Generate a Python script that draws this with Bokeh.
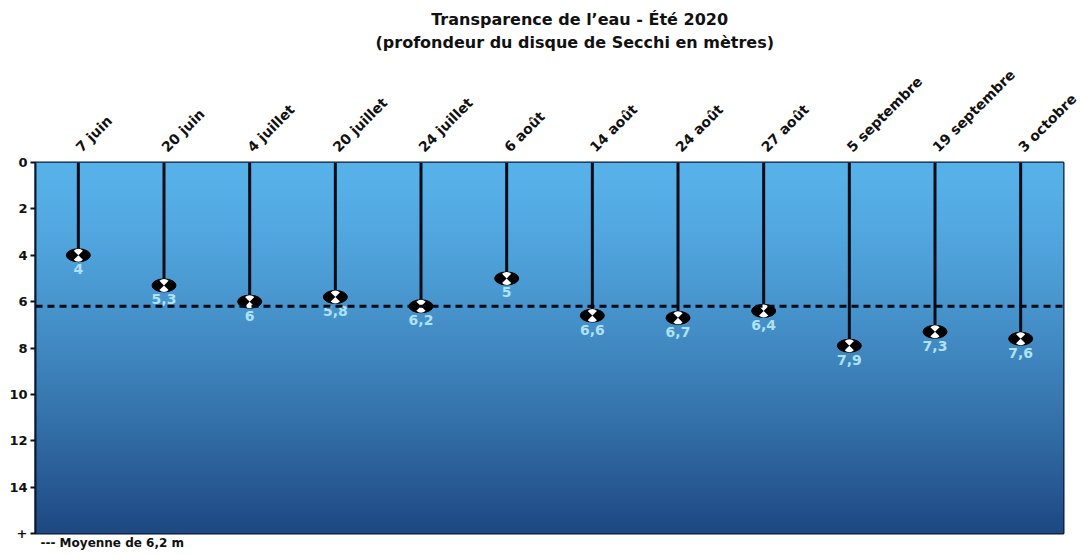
import numpy as np
from bokeh.plotting import figure
from bokeh.models import Range1d, FixedTicker, Span, ColumnDataSource, Title
from bokeh.embed import file_html
from bokeh.resources import INLINE
from bokeh.core.properties import value

dates = ["7 juin", "20 juin", "4 juillet", "20 juillet", "24 juillet", "6 août",
         "14 août", "24 août", "27 août", "5 septembre", "19 septembre", "3 octobre"]
depths = [4, 5.3, 6, 5.8, 6.2, 5, 6.6, 6.7, 6.4, 7.9, 7.3, 7.6]
mean_depth = 6.2
y_ticks = [0, 2, 4, 6, 8, 10, 12, 14, 16]
y_label_overrides = {16: "+"}
y_max = 16
title_lines = ["Transparence de l\u2019eau - Été 2020",
               "(profondeur du disque de Secchi en mètres)"]
legend_text = "--- Moyenne de 6,2 m"

xs = [i + 0.5 for i in range(len(dates))]
labels = [("%g" % d).replace(".", ",") for d in depths]

src = ColumnDataSource(dict(x=xs, y=depths, y0=[0] * len(depths), lab=labels))

FONT = "DejaVu Sans"

p = figure(width=1080, height=550, output_backend="svg", toolbar_location=None,
           x_range=Range1d(0, len(dates)), y_range=Range1d(y_max, 0),
           x_axis_location="above",
           min_border_left=35, min_border_top=162, min_border_right=17, min_border_bottom=17)

# gradient background
n = 400
t = np.linspace(0, 1, n) ** 1.35
top = np.array([88, 178, 234])
bot = np.array([30, 72, 130])
cols = (top[None, :] * (1 - t[:, None]) + bot[None, :] * t[:, None]).astype(np.uint8)
img = np.zeros((n, 1), dtype=np.uint32)
view = img.view(dtype=np.uint8).reshape((n, 1, 4))
view[:, 0, 0] = cols[:, 0]
view[:, 0, 1] = cols[:, 1]
view[:, 0, 2] = cols[:, 2]
view[:, 0, 3] = 255
p.image_rgba(image=[img], x=0, y=0, dw=len(dates), dh=y_max)

p.add_layout(Span(location=mean_depth, dimension="width", line_color="#050a14",
                  line_width=3, line_dash="7 5"))

p.segment(x0="x", y0="y0", x1="x", y1="y", source=src, line_color="#070b16", line_width=3)
p.ellipse(x="x", y="y", width=24, height=13, width_units="screen", height_units="screen",
          source=src, fill_color="black", line_color="black")
p.wedge(x="x", y="y", radius=6.5, radius_units="screen", start_angle=np.pi / 4,
        end_angle=3 * np.pi / 4, source=src, fill_color="white", line_color=None)
p.wedge(x="x", y="y", radius=6.5, radius_units="screen", start_angle=5 * np.pi / 4,
        end_angle=7 * np.pi / 4, source=src, fill_color="white", line_color=None)
p.text(x="x", y="y", text="lab", source=src, text_color="#aee3f7",
       text_font=value(FONT), text_font_style="bold", text_font_size="14px",
       text_align="center", text_baseline="middle", y_offset=14)

# two-line title; first line indented (non-breaking spaces) so both lines look centred
p.title.visible = False
p.add_layout(Title(text="\u00a0" * 10 + title_lines[0] + "\n" + title_lines[1],
                   align="left", text_font=FONT, text_font_size="16px",
                   text_font_style="bold", text_color="#111111", text_line_height=1.2,
                   standoff=11, offset=340), "above")

p.xaxis.ticker = FixedTicker(ticks=xs)
p.xaxis.major_label_overrides = {x: d for x, d in zip(xs, dates)}
p.xaxis.major_label_orientation = np.pi / 4
p.xaxis.major_tick_line_color = None
p.xaxis.minor_tick_line_color = None
p.xaxis.axis_line_color = None
p.xaxis.major_label_text_font = FONT
p.xaxis.major_label_text_font_style = "bold"
p.xaxis.major_label_text_font_size = "14px"
p.xaxis.major_label_text_color = "#111111"
p.xaxis.major_label_standoff = 7

p.yaxis.ticker = FixedTicker(ticks=y_ticks)
p.yaxis.major_label_overrides = y_label_overrides
p.yaxis.minor_tick_line_color = None
p.yaxis.major_tick_out = 5
p.yaxis.major_tick_in = 0
p.yaxis.major_tick_line_width = 2
p.yaxis.major_tick_line_color = "#111111"
p.yaxis.axis_line_color = "#0b1a33"
p.yaxis.axis_line_width = 2
p.yaxis.major_label_text_font = FONT
p.yaxis.major_label_text_font_style = "bold"
p.yaxis.major_label_text_font_size = "13px"
p.yaxis.major_label_text_color = "#111111"
p.yaxis.major_label_standoff = 3

p.xgrid.visible = False
p.ygrid.visible = False
p.outline_line_color = "#0b1a33"
p.outline_line_width = 2
p.outline_line_alpha = 1

p.add_layout(Title(text=legend_text, align="left", text_font=FONT,
                   text_font_style="bold", text_font_size="12px", text_color="#111111",
                   offset=5, standoff=0), "below")

open("out.html", "w").write(file_html(p, INLINE))
